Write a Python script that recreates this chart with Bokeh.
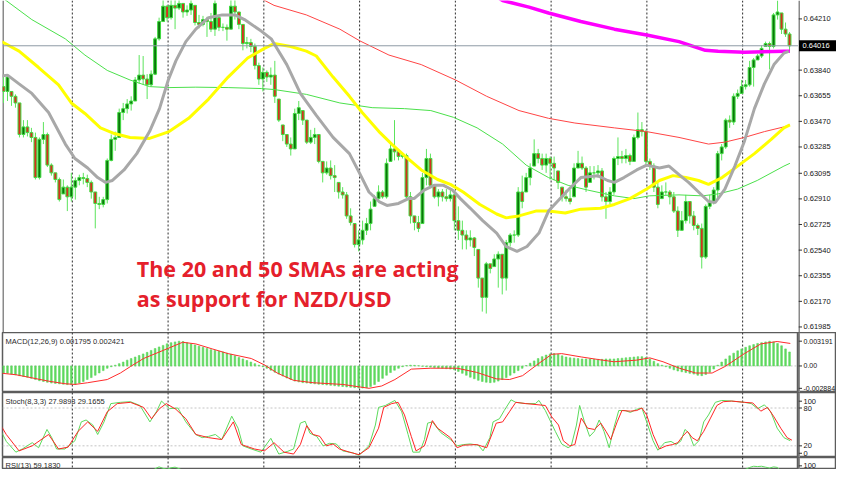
from bokeh.plotting import figure
from bokeh.layouts import column, row
from bokeh.models import Range1d, Span, Label, ColumnDataSource
from bokeh.embed import file_html
from bokeh.resources import INLINE
from bokeh.core.properties import value

# ---------------- data (NZD/USD H1) ----------------
first_open = 0.63721
closes = [
    0.63686, 0.63790, 0.63651, 0.63603, 0.63375, 0.63430, 0.63389, 0.63354, 0.63064, 0.63340,
    0.63375, 0.63154, 0.63098, 0.63050, 0.62905, 0.62995, 0.62925, 0.62995, 0.63043, 0.63064,
    0.63057, 0.63029, 0.62960, 0.62877, 0.62870, 0.62905, 0.63188, 0.63340, 0.63354, 0.63534,
    0.63562, 0.63596, 0.63617, 0.63769, 0.63804, 0.63776, 0.63734, 0.63811, 0.64066, 0.64191,
    0.64302, 0.64219, 0.64308, 0.64288, 0.64322, 0.64260, 0.64274, 0.64322, 0.64184, 0.64170,
    0.64205, 0.64191, 0.64136, 0.64322, 0.64149, 0.64149, 0.64136, 0.64302, 0.64260, 0.64170,
    0.64032, 0.64039, 0.64011, 0.63873, 0.63776, 0.63824, 0.63790, 0.63804, 0.63651, 0.63479,
    0.63375, 0.63306, 0.63271, 0.63527, 0.63569, 0.63479, 0.63320, 0.63354, 0.63375, 0.63181,
    0.63098, 0.63133, 0.63078, 0.63064, 0.62960, 0.62939, 0.62787, 0.62739, 0.62580, 0.62614,
    0.62683, 0.62732, 0.62836, 0.62912, 0.62960, 0.62925, 0.63167, 0.63271, 0.63250, 0.63216,
    0.63223, 0.62925, 0.62787, 0.62739, 0.62697, 0.63064, 0.63202, 0.63008, 0.62925, 0.62960,
    0.62925, 0.62912, 0.62939, 0.62753, 0.62683, 0.62649, 0.62614, 0.62628, 0.62559, 0.62338,
    0.62199, 0.62441, 0.62407, 0.62476, 0.62510, 0.62338, 0.62594, 0.62649, 0.62649, 0.62960,
    0.62891, 0.63064, 0.63133, 0.63237, 0.63202, 0.63154, 0.63202, 0.63167, 0.63133, 0.63029,
    0.62925, 0.62912, 0.62891, 0.63133, 0.63167, 0.63133, 0.62995, 0.63098, 0.63098, 0.63112,
    0.62925, 0.62891, 0.62960, 0.63202, 0.63216, 0.63202, 0.63223, 0.63181, 0.63354, 0.63410,
    0.63396, 0.63181, 0.63147, 0.62995, 0.62870, 0.62960, 0.62960, 0.62925, 0.62822, 0.62683,
    0.62753, 0.62891, 0.62787, 0.62718, 0.62697, 0.62490, 0.62856, 0.62891, 0.62974, 0.63237,
    0.63285, 0.63479, 0.63465, 0.63651, 0.63672, 0.63721, 0.63734, 0.63859, 0.63914, 0.63942,
    0.63997, 0.64032, 0.64011, 0.64239, 0.64260, 0.64136, 0.64101, 0.64016,
]
highs = [
    0.63790, 0.63804, 0.63686, 0.63665, 0.63603, 0.63479, 0.63479, 0.63423, 0.63389, 0.63354,
    0.63465, 0.63389, 0.63167, 0.63098, 0.63064, 0.63050, 0.63008, 0.63098, 0.63064, 0.63085,
    0.63098, 0.63085, 0.63043, 0.62960, 0.62925, 0.62925, 0.63202, 0.63375, 0.63396, 0.63562,
    0.63603, 0.63631, 0.63651, 0.63790, 0.63949, 0.63942, 0.63811, 0.63838, 0.64080, 0.64219,
    0.64364, 0.64308, 0.64357, 0.64350, 0.64364, 0.64322, 0.64308, 0.64357, 0.64308, 0.64239,
    0.64232, 0.64225, 0.64253, 0.64357, 0.64219, 0.64177, 0.64170, 0.64357, 0.64350, 0.64260,
    0.64170, 0.64080, 0.64066, 0.64032, 0.63894, 0.63859, 0.63838, 0.63859, 0.63907, 0.63631,
    0.63444, 0.63375, 0.63354, 0.63562, 0.63617, 0.63548, 0.63479, 0.63409, 0.63423, 0.63375,
    0.63181, 0.63181, 0.63188, 0.63154, 0.63029, 0.62995, 0.62960, 0.62842, 0.62732, 0.62683,
    0.62753, 0.62773, 0.62891, 0.62939, 0.63008, 0.62974, 0.63202, 0.63306, 0.63479, 0.63257,
    0.63237, 0.63237, 0.62960, 0.62787, 0.62787, 0.63098, 0.63271, 0.63237, 0.63008, 0.62981,
    0.62981, 0.62981, 0.62974, 0.62960, 0.62856, 0.62753, 0.62683, 0.62683, 0.62635, 0.62545,
    0.62338, 0.62455, 0.62441, 0.62510, 0.62531, 0.62510, 0.62614, 0.62663, 0.62683, 0.62995,
    0.63078, 0.63098, 0.63167, 0.63340, 0.63271, 0.63237, 0.63237, 0.63216, 0.63216, 0.63112,
    0.62995, 0.62974, 0.62974, 0.63167, 0.63257, 0.63216, 0.63147, 0.63147, 0.63147, 0.63154,
    0.63133, 0.62960, 0.62995, 0.63216, 0.63354, 0.63257, 0.63271, 0.63237, 0.63375, 0.63534,
    0.63465, 0.63410, 0.63202, 0.63167, 0.63029, 0.63008, 0.63029, 0.62974, 0.62960, 0.62856,
    0.62822, 0.62939, 0.62891, 0.62822, 0.62732, 0.62732, 0.62870, 0.62939, 0.62995, 0.63257,
    0.63306, 0.63492, 0.63513, 0.63672, 0.63700, 0.63769, 0.63769, 0.63907, 0.63928, 0.63956,
    0.64018, 0.64046, 0.64046, 0.64253, 0.64343, 0.64253, 0.64184, 0.64115,
]
lows = [
    0.63603, 0.63617, 0.63582, 0.63569, 0.63354, 0.63354, 0.63361, 0.63320, 0.63050, 0.63050,
    0.63306, 0.63140, 0.63078, 0.63029, 0.62891, 0.62946, 0.62822, 0.62891, 0.62905, 0.63008,
    0.63015, 0.62995, 0.62912, 0.62697, 0.62836, 0.62849, 0.62877, 0.63181, 0.63257, 0.63354,
    0.63479, 0.63527, 0.63548, 0.63617, 0.63741, 0.63734, 0.63631, 0.63721, 0.63804, 0.64053,
    0.64191, 0.64191, 0.64205, 0.64136, 0.64274, 0.64219, 0.64232, 0.64239, 0.64163, 0.64142,
    0.64156, 0.64080, 0.64115, 0.64087, 0.64122, 0.64122, 0.64053, 0.64136, 0.64205, 0.64136,
    0.63983, 0.63997, 0.63970, 0.63845, 0.63734, 0.63686, 0.63755, 0.63734, 0.63603, 0.63465,
    0.63327, 0.63285, 0.63223, 0.63271, 0.63479, 0.63444, 0.63306, 0.63306, 0.63306, 0.63167,
    0.63029, 0.63085, 0.63050, 0.62960, 0.62912, 0.62912, 0.62766, 0.62718, 0.62559, 0.62531,
    0.62580, 0.62649, 0.62683, 0.62856, 0.62891, 0.62912, 0.62912, 0.63181, 0.63188, 0.63188,
    0.63202, 0.62905, 0.62732, 0.62683, 0.62670, 0.62732, 0.63008, 0.62995, 0.62912, 0.62856,
    0.62891, 0.62891, 0.62891, 0.62683, 0.62614, 0.62545, 0.62545, 0.62566, 0.62497, 0.62269,
    0.62096, 0.62082, 0.62372, 0.62421, 0.62269, 0.62220, 0.62248, 0.62566, 0.62594, 0.62635,
    0.62842, 0.62960, 0.63008, 0.63147, 0.63167, 0.63119, 0.63098, 0.63050, 0.63043, 0.62981,
    0.62891, 0.62891, 0.62870, 0.62925, 0.63133, 0.63119, 0.62960, 0.63029, 0.63050, 0.63064,
    0.62891, 0.62766, 0.62870, 0.62939, 0.63154, 0.63167, 0.63167, 0.63154, 0.63181, 0.63340,
    0.63361, 0.63154, 0.63119, 0.62960, 0.62842, 0.62912, 0.62939, 0.62870, 0.62808, 0.62635,
    0.62683, 0.62732, 0.62732, 0.62683, 0.62649, 0.62407, 0.62476, 0.62836, 0.62870, 0.62912,
    0.63188, 0.63271, 0.63423, 0.63444, 0.63631, 0.63672, 0.63700, 0.63721, 0.63721, 0.63914,
    0.63928, 0.64011, 0.63845, 0.63997, 0.64205, 0.64101, 0.64080, 0.63976,
]
current_price = 0.64016

# moving averages (bar index, price)
sma20_x = [-0.5, 1.0, 3.9, 7.1, 11.3, 15.5, 17.9, 21.1, 23.6, 25.6, 27.3, 30.2, 33.4, 36.6, 39.1,
           41.3, 43.2, 45.7, 48.2, 51.4, 54.8, 58.0, 60.4, 64.6, 67.1, 67.8, 71.0, 74.4, 78.4, 82.6,
           86.7, 89.2, 91.6, 94.1, 96.1, 99.0, 101.5, 102.9, 105.4, 107.9, 110.3, 112.5, 114.5, 117.0,
           120.1, 123.6, 126.0, 128.7, 131.2, 134.2, 136.6, 141.5, 144.7, 148.9, 151.4, 153.1, 155.5,
           158.7, 161.2, 164.4, 166.8, 169.3, 171.7, 174.2, 176.7, 178.4, 180.8, 183.3, 185.7, 188.2,
           190.7, 193.1, 195.6, 196.8]
sma20_y = [0.63797, 0.63804, 0.63741, 0.63672, 0.63534, 0.63306, 0.63202, 0.63133, 0.63064, 0.63029,
           0.63043, 0.63119, 0.63237, 0.63396, 0.63562, 0.63769, 0.63907, 0.64046, 0.64136, 0.64219,
           0.64239, 0.64239, 0.64205, 0.64122, 0.64066, 0.64032, 0.63880, 0.63672, 0.63513, 0.63354,
           0.63237, 0.63098, 0.62960, 0.62891, 0.62863, 0.62877, 0.62912, 0.62912, 0.62974, 0.63008,
           0.63008, 0.62974, 0.62912, 0.62842, 0.62753, 0.62663, 0.62566, 0.62531, 0.62566, 0.62663,
           0.62822, 0.62974, 0.63064, 0.63078, 0.63043, 0.63029, 0.63064, 0.63119, 0.63154, 0.63133,
           0.63147, 0.63085, 0.63029, 0.62960, 0.62891, 0.62884, 0.62981, 0.63147, 0.63327, 0.63562,
           0.63741, 0.63880, 0.63963, 0.63976]
sma50_x = [-0.5, 3.9, 8.8, 13.8, 17.0, 20.4, 24.3, 27.8, 31.7, 36.6, 41.5, 46.4, 51.4, 56.3, 61.2,
           65.4, 67.8, 72.0, 75.9, 78.4, 82.6, 86.7, 89.9, 94.1, 97.3, 100.5, 104.7, 108.8, 112.0,
           115.2, 119.4, 123.6, 126.0, 129.2, 133.4, 136.6, 140.8, 144.7, 149.6, 153.1, 157.0, 161.2,
           164.4, 167.8, 171.0, 174.2, 176.7, 180.1, 184.0, 188.2, 192.4, 195.6, 197.1]
sma50_y = [0.64046, 0.63977, 0.63859, 0.63734, 0.63603, 0.63527, 0.63423, 0.63382, 0.63354, 0.63347,
           0.63396, 0.63492, 0.63631, 0.63790, 0.63928, 0.63997, 0.64032, 0.64011, 0.63977, 0.63942,
           0.63790, 0.63651, 0.63534, 0.63396, 0.63306, 0.63223, 0.63119, 0.63050, 0.63015, 0.62960,
           0.62870, 0.62801, 0.62773, 0.62787, 0.62822, 0.62822, 0.62808, 0.62836, 0.62842, 0.62870,
           0.62912, 0.62981, 0.63043, 0.63078, 0.63064, 0.63043, 0.63015, 0.63064, 0.63147, 0.63237,
           0.63340, 0.63423, 0.63444]
sma100_x = [-1.0, 7.1, 15.5, 20.4, 26.0, 31.7, 36.6, 41.5, 48.2, 56.3, 64.6, 67.8, 75.9, 84.3, 92.4,
            100.5, 107.1, 112.8, 118.7, 125.1, 131.0, 136.6, 141.5, 146.4, 153.1, 158.0, 161.9,
            169.3, 175.2, 179.1, 184.0, 188.9, 195.6, 197.1]
sma100_y = [0.64378, 0.64205, 0.64066, 0.63949, 0.63838, 0.63769, 0.63721, 0.63714, 0.63717, 0.63714,
            0.63707, 0.63700, 0.63665, 0.63603, 0.63569, 0.63562, 0.63548, 0.63499, 0.63423, 0.63306,
            0.63154, 0.63064, 0.63008, 0.62974, 0.62932, 0.62912, 0.62932, 0.62939, 0.62932, 0.62946,
            0.62981, 0.63043, 0.63147, 0.63167]
sma200_x = [64.1, 67.8, 75.9, 84.3, 89.2, 96.6, 104.7, 113.3, 121.1, 129.2, 136.6, 143.2, 153.1,
            161.2, 169.3, 176.7, 180.8, 185.7, 190.7, 195.6, 197.1]
sma200_y = [0.64364, 0.64308, 0.64239, 0.64136, 0.64053, 0.63949, 0.63880, 0.63769, 0.63651, 0.63548,
            0.63492, 0.63458, 0.63423, 0.63396, 0.63354, 0.63306, 0.63320, 0.63354, 0.63396, 0.63430,
            0.63444]
sma_long_x = [124.3, 125.1, 131.7, 136.6, 144.7, 153.1, 161.2, 169.3, 175.9, 179.1, 185.7, 195.6, 197.1]
sma_long_y = [0.64357, 0.64343, 0.64295, 0.64253, 0.64191, 0.64136, 0.64094, 0.64046, 0.63983,
              0.63976, 0.63970, 0.63976, 0.63976]

# MACD(12,26,9): main (histogram, one per bar) and signal line
macd_main = [
    -0.00090, -0.00095, -0.00105, -0.00115, -0.00125, -0.00135, -0.00145, -0.00160, -0.00175, -0.00190,
    -0.00200, -0.00210, -0.00220, -0.00225, -0.00230, -0.00235, -0.00240, -0.00240, -0.00235, -0.00220,
    -0.00200, -0.00175, -0.00150, -0.00120, -0.00090, -0.00060, -0.00030, -0.00010, 0.00010, 0.00030,
    0.00050, 0.00075, 0.00095, 0.00115, 0.00135, 0.00155, 0.00175, 0.00200, 0.00225, 0.00245,
    0.00265, 0.00285, 0.00300, 0.00310, 0.00319, 0.00315, 0.00300, 0.00285, 0.00270, 0.00255,
    0.00240, 0.00225, 0.00210, 0.00200, 0.00190, 0.00180, 0.00165, 0.00150, 0.00130, 0.00110,
    0.00090, 0.00070, 0.00050, 0.00030, 0.00010, -0.00010, -0.00030, -0.00055, -0.00080, -0.00105,
    -0.00130, -0.00155, -0.00175, -0.00195, -0.00205, -0.00215, -0.00220, -0.00225, -0.00230, -0.00235,
    -0.00240, -0.00245, -0.00250, -0.00255, -0.00260, -0.00265, -0.00270, -0.00275, -0.00280, -0.00285,
    -0.00285, -0.00280, -0.00265, -0.00240, -0.00200, -0.00160, -0.00120, -0.00085, -0.00055, -0.00030,
    -0.00010, 0.00005, 0.00010, 0.00008, 0.00003, -0.00005, -0.00010, -0.00015, -0.00020, -0.00025,
    -0.00030, -0.00035, -0.00040, -0.00050, -0.00070, -0.00095, -0.00120, -0.00145, -0.00165, -0.00185,
    -0.00200, -0.00210, -0.00215, -0.00210, -0.00195, -0.00175, -0.00150, -0.00120, -0.00090, -0.00060,
    -0.00030, 0.00005, 0.00035, 0.00065, 0.00095, 0.00120, 0.00140, 0.00155, 0.00160, 0.00150,
    0.00130, 0.00115, 0.00105, 0.00100, 0.00095, 0.00090, 0.00090, 0.00090, 0.00085, 0.00085,
    0.00085, 0.00090, 0.00090, 0.00090, 0.00095, 0.00100, 0.00105, 0.00110, 0.00115, 0.00120,
    0.00120, 0.00110, 0.00090, 0.00060, 0.00030, 0.00010, -0.00010, -0.00030, -0.00050, -0.00065,
    -0.00075, -0.00085, -0.00095, -0.00105, -0.00120, -0.00125, -0.00110, -0.00080, -0.00040, 0.00010,
    0.00050, 0.00090, 0.00130, 0.00165, 0.00195, 0.00220, 0.00240, 0.00260, 0.00275, 0.00290,
    0.00300, 0.00310, 0.00319, 0.00310, 0.00290, 0.00260, 0.00220, 0.00180,
]
macd_signal_x = [-1.0, 3.1, 7.2, 11.3, 15.4, 17.9, 21.1, 26.0, 29.3, 31.8, 35.1, 40.0, 44.9, 48.2, 52.3,
                 56.3, 62.1, 65.4, 68.6, 72.7, 77.6, 85.0, 91.6, 94.8, 98.1, 102.2, 107.1, 113.7, 118.6,
                 123.5, 126.8, 130.1, 134.2, 137.4, 139.9, 144.8, 148.9, 153.0, 158.7, 162.0, 165.3,
                 169.4, 173.5, 177.6, 180.8, 185.7, 189.8, 193.9, 197.2]
macd_signal_y = [-0.00091, -0.00113, -0.00154, -0.00196, -0.00229, -0.00238, -0.00216, -0.00175, -0.00091,
                 -0.00008, 0.00096, 0.00200, 0.00305, 0.00284, 0.00220, 0.00159, 0.00096, 0.00013,
                 -0.00091, -0.00185, -0.00216, -0.00238, -0.00288, -0.00258, -0.00175, -0.00041,
                 -0.00029, -0.00029, -0.00083, -0.00166, -0.00175, -0.00125, 0.00034, 0.00150, 0.00159,
                 0.00116, 0.00084, 0.00054, 0.00075, 0.00104, 0.00054, -0.00029, -0.00091, -0.00091,
                 -0.00008, 0.00159, 0.00284, 0.00315, 0.00290]
macd_ticks = [0.003191, 0.0, -0.002884]
macd_tick_labels = ["0.003191", "0.00", "-0.002884"]

# Stochastic(8,3,3)
stoch_k_x = [-1.0, 0.7, 3.1, 4.7, 7.2, 8.8, 10.9, 12.1, 13.3, 15.4, 17.9, 19.5, 20.7, 22.4, 23.6, 25.2,
             26.9, 29.3, 31.8, 34.2, 36.7, 38.3, 39.6, 41.6, 43.7, 45.7, 48.2, 49.8, 51.4, 53.1, 54.7,
             57.2, 58.8, 60.0, 62.1, 64.5, 67.0, 69.0, 71.1, 72.7, 74.4, 75.6, 76.8, 78.5, 80.1, 81.7,
             83.4, 85.0, 87.5, 89.1, 91.6, 93.2, 94.0, 95.7, 98.1, 99.8, 101.4, 102.6, 104.3, 105.5,
             106.3, 107.5, 109.6, 112.0, 113.7, 115.3, 117.0, 119.0, 120.2, 121.9, 122.7, 124.3, 125.5,
             127.2, 128.4, 130.9, 133.3, 134.2, 135.8, 138.3, 139.9, 141.5, 142.3, 143.6, 144.4, 145.6,
             146.9, 148.1, 149.3, 150.5, 151.8, 153.0, 154.2, 155.8, 157.1, 158.7, 160.0, 161.2, 162.8,
             164.0, 165.7, 167.3, 168.6, 169.8, 170.8, 171.8, 173.0, 174.3, 175.5, 176.7, 178.4, 180.0,
             182.5, 185.7, 187.4, 189.0, 190.7, 192.3, 193.9, 195.6, 197.2]
stoch_k = [48, 27, 10, 15, 25, 17, 46, 33, 15, 15, 28, 58, 61, 53, 38, 58, 87, 89, 90, 84,
           58, 74, 91, 79, 80, 58, 38, 33, 35, 38, 30, 67, 48, 20, 15, 10, 32, 7, 11, 15,
           56, 59, 40, 35, 20, 24, 23, 12, 9, 5, 20, 53, 81, 84, 92, 74, 38, 10, 10, 30,
           56, 58, 41, 30, 20, 22, 23, 21, 12, 33, 58, 63, 76, 93, 89, 87, 87, 92, 76, 43,
           23, 17, 20, 53, 84, 58, 35, 43, 61, 43, 17, 49, 76, 76, 73, 78, 80, 58, 28, 13,
           25, 27, 22, 28, 46, 40, 20, 28, 58, 69, 89, 92, 91, 89, 87, 79, 85, 74, 48, 33, 28]
stoch_d_x = [-1.0, 0.7, 3.9, 7.2, 11.3, 13.8, 16.2, 18.7, 21.1, 23.6, 26.0, 28.5, 31.8, 35.1, 37.1,
             39.1, 40.8, 43.2, 45.7, 48.2, 51.4, 54.7, 57.6, 59.6, 62.9, 65.4, 67.8, 70.3, 72.7, 74.4,
             76.0, 77.6, 79.3, 80.9, 82.6, 84.2, 86.7, 89.1, 91.6, 94.0, 95.3, 97.3, 98.9, 100.5,
             102.2, 103.4, 105.5, 107.5, 108.8, 112.0, 113.7, 115.3, 118.6, 121.1, 123.5, 125.1,
             126.8, 128.4, 130.9, 134.2, 135.8, 137.4, 139.1, 140.3, 141.9, 143.2, 144.8, 146.4,
             148.1, 149.7, 151.0, 152.2, 153.8, 155.0, 157.1, 158.7, 160.0, 161.2, 162.8, 164.4,
             166.1, 167.7, 169.0, 170.2, 171.4, 172.6, 173.9, 175.5, 177.2, 178.8, 180.4, 182.5,
             185.7, 187.8, 189.8, 191.5, 193.1, 194.8, 196.4, 197.6]
stoch_d = [56, 38, 12, 20, 38, 15, 18, 43, 58, 43, 74, 87, 89, 81, 63, 79, 87, 78, 63, 38,
           33, 30, 58, 22, 15, 12, 25, 10, 7, 22, 52, 38, 35, 20, 23, 15, 10, 6, 17, 48,
           81, 87, 89, 69, 35, 12, 20, 60, 48, 33, 17, 21, 22, 17, 56, 58, 74, 89, 87, 85,
           84, 66, 53, 28, 20, 22, 64, 48, 46, 56, 43, 30, 58, 76, 75, 76, 80, 69, 38, 15,
           20, 22, 25, 35, 43, 33, 28, 43, 64, 84, 90, 91, 89, 88, 75, 81, 66, 48, 33, 29]
stoch_levels = [20, 80]
stoch_tick_labels = ["100", "80", "20", "0"]

# RSI(13)
rsi_x = [0, 8, 15, 23, 26, 30, 34, 37, 38, 39, 40, 41, 42, 43, 44, 46, 50, 55, 60, 66,
         72, 80, 88, 96, 100, 104, 110, 118, 121, 126, 132, 140, 150, 158, 164, 175, 180, 184, 186, 187,
         188, 189, 190, 191, 192, 193, 194, 196, 197]
rsi_y = [45, 35, 30, 28, 50, 62, 74, 80, 86, 89, 86.5, 85, 87.5, 88.5, 86, 80, 72, 70, 58, 45,
         33, 30, 26, 48, 52, 40, 44, 34, 27, 40, 60, 50, 49, 62, 44, 36, 62, 80, 85, 88,
         90, 89.5, 90, 88.5, 87, 89, 88, 70, 59.2]

price_ticks = [0.64210, 0.63840, 0.63655, 0.63470, 0.63285, 0.63095, 0.62910, 0.62725,
               0.62540, 0.62355, 0.62170, 0.61985]
day_break_bars = [17.25, 41.25, 65.25, 89.25, 113.25, 137.25, 161.25, 185.25]

# ---------------- derived candle table ----------------
bars = list(range(len(closes)))
opens = []
prev = first_open
for c, h, l in zip(closes, highs, lows):
    opens.append(min(max(prev, l), h))
    prev = c
tops = [max(o, c) for o, c in zip(opens, closes)]
bots = [min(o, c) for o, c in zip(opens, closes)]
fills = ["#0B760B" if c >= o else "#D5301F" for o, c in zip(opens, closes)]
candles = ColumnDataSource(dict(x=bars, h=highs, l=lows, top=tops, bot=bots, fill=fills))

# ---------------- layout ----------------
PLOT_W = 798
AXIS_W = 38
XR = Range1d(-0.25, 199.25)
AX_FONT = "Liberation Sans"
LBL_COLOR = "#2a2a2a"
EDGE = "#5c5c5c"


def plot_panel(height, yr, outline=True):
    p = figure(width=PLOT_W, height=height, x_range=XR, y_range=yr, output_backend="svg",
               toolbar_location=None, x_axis_location=None, y_axis_location=None,
               min_border_left=2, min_border_right=0, min_border_top=0, min_border_bottom=0)
    p.grid.visible = False
    p.background_fill_color = "white"
    p.border_fill_color = "white"
    p.outline_line_color = EDGE if outline else None
    p.outline_line_width = 1.5
    for b in day_break_bars:
        p.add_layout(Span(location=b, dimension="height", line_color="#2b2b2b",
                          line_dash="2 2", line_width=1, level="underlay"))
    return p


def axis_panel(height, yr, tick_y, label_y, labels, outline=True, font_size="7.5px"):
    a = figure(width=AXIS_W, height=height, x_range=Range1d(0, AXIS_W), y_range=yr,
               output_backend="svg", toolbar_location=None, x_axis_location=None,
               y_axis_location=None, min_border_left=0, min_border_right=0,
               min_border_top=0, min_border_bottom=0)
    a.grid.visible = False
    a.background_fill_color = "white"
    a.border_fill_color = "white"
    a.outline_line_color = EDGE if outline else None
    a.outline_line_width = 1.5
    a.segment(x0=0, y0=yr.start, x1=0, y1=yr.end, line_color="#8a8a8a", line_width=3)
    a.segment(x0=[0] * len(tick_y), y0=tick_y, x1=[3.5] * len(tick_y), y1=tick_y,
              line_color="#333333", line_width=1)
    a.text(x=[5] * len(label_y), y=label_y, text=labels, text_font=value(AX_FONT),
           text_font_size=value(font_size), text_color="#151515",
           text_align="left", text_baseline="middle")
    return a


# main price panel
main_yr = Range1d(0.61945, 0.64343)
main = plot_panel(332, main_yr, outline=False)
main.segment(x0=-0.25, y0=0.61945, x1=-0.25, y1=0.64343, line_color="#8a8a8a", line_width=3)
main.add_layout(Span(location=current_price, dimension="width", line_color="#8E9AA6", line_width=1))
main.segment(x0="x", y0="l", x1="x", y1="h", source=candles, line_color="#5CE45C", line_width=1)
main.vbar(x="x", width=0.72, top="top", bottom="bot", source=candles,
          fill_color="fill", line_color="#3FDB3F", line_width=1)
main.line(sma100_x, sma100_y, line_color="#4BE04B", line_width=1)
main.line(sma200_x, sma200_y, line_color="#FF4545", line_width=1)
main.line(sma_long_x, sma_long_y, line_color="#FF00FF", line_width=3.5)
main.line(sma50_x, sma50_y, line_color="#FFFF00", line_width=3)
main.line(sma20_x, sma20_y, line_color="#A8A8A8", line_width=3)
main.add_layout(Label(x=33.4, y=0.62410, text="The 20 and 50 SMAs are acting",
                      text_color="#E5202B", text_font="Open Sans", text_font_style="bold",
                      text_font_size="21.5px", text_align="left", text_baseline="alphabetic"))
main.add_layout(Label(x=33.4, y=0.62193, text="as support for NZD/USD",
                      text_color="#E5202B", text_font="Open Sans", text_font_style="bold",
                      text_font_size="21.5px", text_align="left", text_baseline="alphabetic"))

main_ax = axis_panel(332, main_yr, price_ticks, price_ticks,
                     [f"{t:.5f}" for t in price_ticks], outline=False)
main_ax.rect(x=AXIS_W / 2, y=current_price, width=AXIS_W - 1, height=11, height_units="screen",
             fill_color="black", line_color=None)
main_ax.text(x=[4], y=[current_price], text=[f"{current_price:.5f}"], text_font=value(AX_FONT),
             text_font_size=value("7.5px"), text_color="white", text_align="left",
             text_baseline="middle")

# MACD panel
macd_yr = Range1d(-0.00342, 0.00431)
macd = plot_panel(60, macd_yr)
macd.add_layout(Span(location=0, dimension="width", line_color="#C4C4C4", line_dash="2 2",
                     line_width=1, level="underlay"))
macd.vbar(x=bars, top=macd_main, bottom=0, width=0.42, fill_color="#5FD85F",
          line_color="#5FD85F", line_width=0.6)
macd.line(macd_signal_x, macd_signal_y, line_color="#FF2B2B", line_width=1)
macd.add_layout(Label(x=0.5, y=0.003191, text="MACD(12,26,9) 0.001795 0.002421",
                      text_font=AX_FONT, text_font_size="7.5px", text_color=LBL_COLOR,
                      text_align="left", text_baseline="middle"))
macd_ax = axis_panel(60, macd_yr, macd_ticks, macd_ticks, macd_tick_labels, font_size="7px")

# Stochastic panel
stoch_yr = Range1d(1.5, 104.6)
stoch = plot_panel(65, stoch_yr)
for lv in stoch_levels:
    stoch.add_layout(Span(location=lv, dimension="width", line_color="#C4C4C4", line_dash="2 2",
                          line_width=1, level="underlay"))
stoch.line(stoch_k_x, stoch_k, line_color="#5CDA5C", line_width=1)
stoch.line(stoch_d_x, stoch_d, line_color="#FF2424", line_width=1)
stoch.add_layout(Label(x=0.5, y=90.8, text="Stoch(8,3,3) 27.9893 29.1655",
                       text_font=AX_FONT, text_font_size="7.5px", text_color=LBL_COLOR,
                       text_align="left", text_baseline="middle"))
stoch_label_y = [90.8, 80, 20, 8.2]
stoch_ax = axis_panel(65, stoch_yr, stoch_label_y, stoch_label_y, stoch_tick_labels)

# RSI panel (only its top edge is visible)
rsi_yr = Range1d(84.6, 104.6)
rsi = plot_panel(12, rsi_yr)
rsi.line(rsi_x, rsi_y, line_color="#5CDA5C", line_width=1)
rsi.add_layout(Label(x=0.5, y=90.7, text="RSI(13) 59.1830", text_font=AX_FONT,
                     text_font_size="7.5px", text_color=LBL_COLOR, text_align="left",
                     text_baseline="middle"))
rsi_ax = axis_panel(12, rsi_yr, [90.7], [90.7], ["100"])

layout = column(row(main, main_ax, spacing=0), row(macd, macd_ax, spacing=0),
                row(stoch, stoch_ax, spacing=0), row(rsi, rsi_ax, spacing=0), spacing=0)

with open("out.html", "w") as f:
    f.write(file_html(layout, INLINE))
